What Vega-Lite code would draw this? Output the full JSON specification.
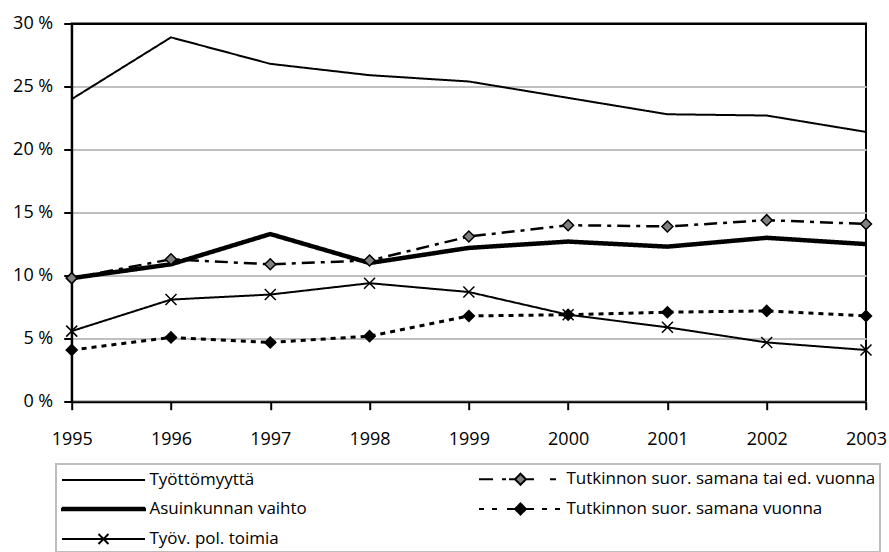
{
  "$schema": "https://vega.github.io/schema/vega-lite/v6.json",
  "width": 794.3,
  "height": 378.2,
  "autosize": "none",
  "padding": {"left": 71.7, "top": 23.5, "right": 23, "bottom": 151},
  "background": "white",
  "config": {
    "view": {"stroke": "black", "strokeWidth": 2},
    "font": "Open Sans",
    "axis": {
      "title": null,
      "domainColor": "black",
      "domainWidth": 2,
      "tickColor": "black",
      "tickWidth": 2,
      "tickSize": 8,
      "labelFont": "Open Sans",
      "labelFontSize": 18,
      "labelColor": "black",
      "labelFlush": false,
      "labelOverlap": false
    }
  },
  "data": {
    "values": [
      {"year": 1995, "series": "Työttömyyttä", "value": 24.0},
      {"year": 1996, "series": "Työttömyyttä", "value": 28.9},
      {"year": 1997, "series": "Työttömyyttä", "value": 26.8},
      {"year": 1998, "series": "Työttömyyttä", "value": 25.9},
      {"year": 1999, "series": "Työttömyyttä", "value": 25.4},
      {"year": 2000, "series": "Työttömyyttä", "value": 24.1},
      {"year": 2001, "series": "Työttömyyttä", "value": 22.8},
      {"year": 2002, "series": "Työttömyyttä", "value": 22.7},
      {"year": 2003, "series": "Työttömyyttä", "value": 21.4},
      {"year": 1995, "series": "Asuinkunnan vaihto", "value": 9.8},
      {"year": 1996, "series": "Asuinkunnan vaihto", "value": 10.9},
      {"year": 1997, "series": "Asuinkunnan vaihto", "value": 13.3},
      {"year": 1998, "series": "Asuinkunnan vaihto", "value": 11.0},
      {"year": 1999, "series": "Asuinkunnan vaihto", "value": 12.2},
      {"year": 2000, "series": "Asuinkunnan vaihto", "value": 12.7},
      {"year": 2001, "series": "Asuinkunnan vaihto", "value": 12.3},
      {"year": 2002, "series": "Asuinkunnan vaihto", "value": 13.0},
      {"year": 2003, "series": "Asuinkunnan vaihto", "value": 12.5},
      {"year": 1995, "series": "Tutkinnon suor. samana tai ed. vuonna", "value": 9.8},
      {"year": 1996, "series": "Tutkinnon suor. samana tai ed. vuonna", "value": 11.3},
      {"year": 1997, "series": "Tutkinnon suor. samana tai ed. vuonna", "value": 10.9},
      {"year": 1998, "series": "Tutkinnon suor. samana tai ed. vuonna", "value": 11.2},
      {"year": 1999, "series": "Tutkinnon suor. samana tai ed. vuonna", "value": 13.1},
      {"year": 2000, "series": "Tutkinnon suor. samana tai ed. vuonna", "value": 14.0},
      {"year": 2001, "series": "Tutkinnon suor. samana tai ed. vuonna", "value": 13.9},
      {"year": 2002, "series": "Tutkinnon suor. samana tai ed. vuonna", "value": 14.4},
      {"year": 2003, "series": "Tutkinnon suor. samana tai ed. vuonna", "value": 14.1},
      {"year": 1995, "series": "Tutkinnon suor. samana vuonna", "value": 4.1},
      {"year": 1996, "series": "Tutkinnon suor. samana vuonna", "value": 5.1},
      {"year": 1997, "series": "Tutkinnon suor. samana vuonna", "value": 4.7},
      {"year": 1998, "series": "Tutkinnon suor. samana vuonna", "value": 5.2},
      {"year": 1999, "series": "Tutkinnon suor. samana vuonna", "value": 6.8},
      {"year": 2000, "series": "Tutkinnon suor. samana vuonna", "value": 6.9},
      {"year": 2001, "series": "Tutkinnon suor. samana vuonna", "value": 7.1},
      {"year": 2002, "series": "Tutkinnon suor. samana vuonna", "value": 7.2},
      {"year": 2003, "series": "Tutkinnon suor. samana vuonna", "value": 6.8},
      {"year": 1995, "series": "Työv. pol. toimia", "value": 5.6},
      {"year": 1996, "series": "Työv. pol. toimia", "value": 8.1},
      {"year": 1997, "series": "Työv. pol. toimia", "value": 8.5},
      {"year": 1998, "series": "Työv. pol. toimia", "value": 9.4},
      {"year": 1999, "series": "Työv. pol. toimia", "value": 8.7},
      {"year": 2000, "series": "Työv. pol. toimia", "value": 6.9},
      {"year": 2001, "series": "Työv. pol. toimia", "value": 5.9},
      {"year": 2002, "series": "Työv. pol. toimia", "value": 4.7},
      {"year": 2003, "series": "Työv. pol. toimia", "value": 4.1}
    ]
  },
  "encoding": {
    "x": {
      "field": "year",
      "type": "quantitative",
      "scale": {"domain": [1995, 2003], "nice": false, "zero": false},
      "axis": {
        "values": [1995, 1996, 1997, 1998, 1999, 2000, 2001, 2002, 2003],
        "format": "d",
        "grid": false,
        "labelPadding": 21
      }
    },
    "y": {
      "field": "value",
      "type": "quantitative",
      "scale": {"domain": [0, 30], "nice": false},
      "axis": {
        "values": [0, 5, 10, 15, 20, 25, 30],
        "labelExpr": "datum.value + ' %'",
        "labelPadding": 11,
        "grid": true,
        "gridColor": {"condition": {"test": "datum.value >= 30", "value": "black"}, "value": "#c0c0c0"},
        "gridWidth": 2
      }
    }
  },
  "layer": [
    {
      "mark": {
        "type": "line",
        "strokeCap": "butt",
        "strokeJoin": "miter",
        "strokeWidth": {"expr": "datum.series === 'Asuinkunnan vaihto' ? 4.5 : datum.series === 'Tutkinnon suor. samana vuonna' ? 3 : datum.series === 'Tutkinnon suor. samana tai ed. vuonna' ? 2.5 : 2"},
        "strokeDash": {"expr": "datum.series === 'Tutkinnon suor. samana tai ed. vuonna' ? [13, 6, 4, 6] : datum.series === 'Tutkinnon suor. samana vuonna' ? [5, 5] : [1, 0]"}
      },
      "encoding": {
        "color": {
          "field": "series",
          "type": "nominal",
          "scale": {
            "domain": ["Työttömyyttä", "Tutkinnon suor. samana tai ed. vuonna", "Asuinkunnan vaihto", "Tutkinnon suor. samana vuonna", "Työv. pol. toimia"],
            "range": ["black", "black", "black", "black", "black"]
          },
          "legend": {
            "title": null,
            "orient": "none",
            "direction": "horizontal",
            "legendX": -15.7,
            "legendY": 440.5,
            "columns": 2,
            "columnPadding": 168,
            "rowPadding": 9,
            "padding": 4,
            "strokeColor": "#bdbdbd",
            "fillColor": "white",
            "symbolSize": 400,
            "symbolStrokeWidth": 2,
            "symbolOffset": 32.5,
            "labelOffset": 35,
            "labelFont": "Open Sans",
            "labelFontSize": 17,
            "labelColor": "black",
            "labelLimit": 600,
            "encode": {
              "legend": {"update": {"strokeWidth": {"value": 2}}},
              "symbols": {
                "update": {
                  "shape": {"signal": "datum.value === 'Työttömyyttä' ? 'M-4.15,0H4.15' : datum.value === 'Asuinkunnan vaihto' ? 'M-4.15,-0.125H4.15V0.125H-4.15Z' : datum.value === 'Työv. pol. toimia' ? 'M-4.15,0H4.15M-0.5,-0.5L0.5,0.5M-0.5,0.5L0.5,-0.5' : datum.value === 'Tutkinnon suor. samana tai ed. vuonna' ? 'M-4.15,0H-2.75M-1.85,0H-1.45M-1.15,0H-0.55M0.55,0H1.35M2.95,0H3.55M-0.55,0L0,-0.55L0.55,0L0,0.55Z' : 'M-4.15,0H-3.65M-2.85,0H-2.35M-1.35,0H1.35M2.15,0H2.65M3.45,0H3.95M-0.55,0L0,-0.55L0.55,0L0,0.55Z'"},
                  "fill": {"signal": "datum.value === 'Tutkinnon suor. samana tai ed. vuonna' ? '#808080' : (datum.value === 'Tutkinnon suor. samana vuonna' || datum.value === 'Asuinkunnan vaihto') ? 'black' : 'transparent'"},
                  "stroke": {"value": "black"},
                  "strokeDash": {"value": [1, 0]},
                  "strokeWidth": {"value": 2},
                  "opacity": {"value": 1}
                }
              }
            }
          }
        }
      }
    },
    {
      "transform": [
        {"filter": {"field": "series", "oneOf": ["Tutkinnon suor. samana tai ed. vuonna", "Tutkinnon suor. samana vuonna", "Työv. pol. toimia"]}}
      ],
      "mark": {
        "type": "point",
        "filled": true,
        "stroke": "black",
        "strokeWidth": 1.5,
        "size": 121,
        "opacity": 1,
        "shape": {"expr": "datum.series === 'Työv. pol. toimia' ? 'M-1,-1L1,1M-1,1L1,-1' : 'diamond'"},
        "fill": {"expr": "datum.series === 'Tutkinnon suor. samana tai ed. vuonna' ? '#808080' : datum.series === 'Tutkinnon suor. samana vuonna' ? 'black' : 'transparent'"}
      },
      "encoding": {}
    }
  ]
}
